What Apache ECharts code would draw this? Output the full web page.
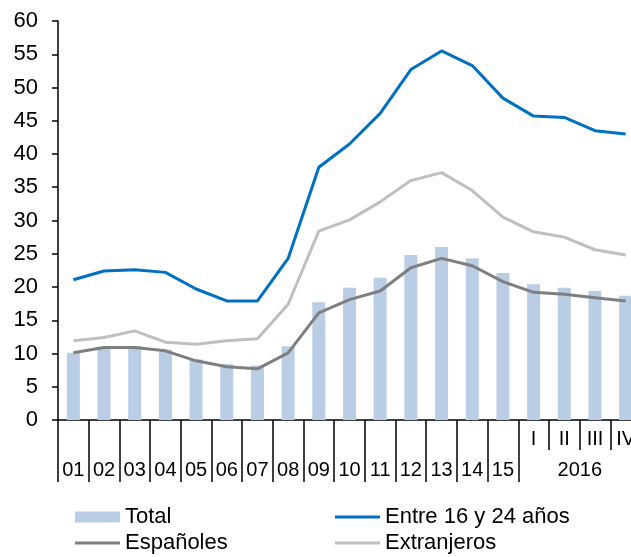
<!DOCTYPE html>
<html>
<head>
<meta charset="utf-8">
<script src="https://cdn.jsdelivr.net/npm/echarts@6/dist/echarts.min.js"></script>
<style>
  html, body { margin: 0; padding: 0; background: #ffffff; overflow: hidden; }
  /* the plot runs slightly past the right edge of the page, so the last bar is clipped */
  #wrap { width: 631px; height: 557px; overflow: hidden; }
  #chart { width: 641px; height: 557px; }
</style>
</head>
<body>
<div id="wrap"><div id="chart"></div></div>
<script>
// Categories: years 2001-2015, then the four quarters of 2016
const categories = ['01','02','03','04','05','06','07','08','09','10','11','12','13','14','15','I','II','III','IV'];
const quarterYear = '2016';
const firstQuarter = 15;

// Unemployment rates (%)
const total       = [10.1, 11.0, 11.1, 10.6, 9.1, 8.4, 8.2, 11.1, 17.7, 19.9, 21.4, 24.8, 26.0, 24.3, 22.1, 20.4, 19.9, 19.4, 18.7];
const jovenes     = [21.1, 22.4, 22.6, 22.2, 19.7, 17.9, 17.9, 24.3, 38.0, 41.5, 46.1, 52.7, 55.5, 53.3, 48.4, 45.7, 45.5, 43.5, 43.0];
const espanoles   = [10.1, 10.9, 10.9, 10.4, 8.9, 8.0, 7.7, 10.1, 16.1, 18.1, 19.4, 22.9, 24.3, 23.2, 20.8, 19.2, 18.9, 18.4, 17.9];
const extranjeros = [11.9, 12.4, 13.4, 11.7, 11.4, 11.9, 12.2, 17.4, 28.4, 30.1, 32.8, 36.0, 37.2, 34.5, 30.5, 28.3, 27.5, 25.6, 24.8];

const yTicks = { min: 0, max: 60, interval: 5 };

const FONT = '"Liberation Sans", Arial, sans-serif';

const chart = echarts.init(document.getElementById('chart'), null, { renderer: 'canvas' });

const lineSeries = (name, data, color) => ({
  name, type: 'line', data,
  symbol: 'none',
  lineStyle: { color, width: 3 },
  itemStyle: { color },
  z: 3
});

// one legend block per entry, laid out as two columns of two rows
const legendItem = (name, left, top, iconHeight) => ({
  left, top, padding: 0,
  itemWidth: 45, itemHeight: iconHeight,
  textStyle: { fontFamily: FONT, fontSize: 22, color: '#000', lineHeight: 22 },
  data: [{ name, icon: 'rect' }]
});

chart.setOption({
  animation: false,
  backgroundColor: '#ffffff',
  grid: { left: 58, right: 0, top: 21, bottom: 137, containLabel: false },
  legend: [
    legendItem('Total', 75, 506, 11),
    legendItem('Españoles', 75, 532, 3),
    legendItem('Entre 16 y 24 años', 335, 506, 3),
    legendItem('Extranjeros', 335, 532, 3)
  ],
  xAxis: [
    {
      type: 'category', data: categories, position: 'bottom',
      boundaryGap: true,
      axisLine: { show: true, lineStyle: { color: '#000', width: 1.5 } },
      axisTick: {
        show: true, length: 62,
        interval: (i) => i <= firstQuarter,
        lineStyle: { color: '#000', width: 1.5 }
      },
      axisLabel: {
        interval: 0, margin: 40, hideOverlap: false,
        fontFamily: FONT, fontSize: 20, color: '#000',
        formatter: (v, i) => {
          if (i < firstQuarter) return v;
          if (i === firstQuarter + 1) return '{y|' + quarterYear + '}';
          return '';
        },
        rich: { y: { fontFamily: FONT, fontSize: 20, color: '#000', padding: [0, 0, 0, 31] } }
      }
    },
    {
      type: 'category', data: categories, position: 'bottom',
      boundaryGap: true,
      axisLine: { show: false },
      axisTick: {
        show: true, length: 30,
        interval: (i) => i > firstQuarter && i < categories.length,
        lineStyle: { color: '#000', width: 1.5 }
      },
      axisLabel: {
        interval: 0, margin: 9, hideOverlap: false,
        fontFamily: FONT, fontSize: 20, color: '#000',
        formatter: (v, i) => (i >= firstQuarter ? v : '')
      }
    }
  ],
  yAxis: {
    type: 'value', min: yTicks.min, max: yTicks.max, interval: yTicks.interval,
    splitLine: { show: false },
    axisLine: { show: true, lineStyle: { color: '#000', width: 1.5 } },
    axisTick: { show: true, length: 6, lineStyle: { color: '#000', width: 1.5 } },
    axisLabel: { margin: 20, fontFamily: FONT, fontSize: 22, color: '#000' }
  },
  series: [
    {
      name: 'Total', type: 'bar', data: total, xAxisIndex: 0,
      barWidth: 13,
      itemStyle: { color: '#B9CDE5' },
      z: 2
    },
    lineSeries('Entre 16 y 24 años', jovenes, '#0070C0'),
    lineSeries('Españoles', espanoles, '#7F7F7F'),
    lineSeries('Extranjeros', extranjeros, '#BFBFBF')
  ]
});
</script>
</body>
</html>
